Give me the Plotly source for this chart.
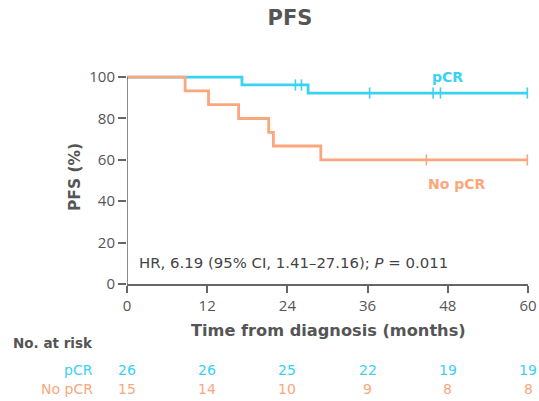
import plotly.graph_objects as go

# ---- data ----
pcr_times = [0, 17.2, 27.1, 60]
pcr_surv = [100, 96.2, 92.3, 92.3]
pcr_censor = [25.2, 26.1, 36.3, 45.8, 46.9, 59.9]

npcr_times = [0, 8.7, 12.2, 16.7, 21.2, 21.9, 29.0, 60]
npcr_surv = [100, 93.3, 86.7, 80.0, 73.3, 66.7, 60.0, 60.0]
npcr_censor = [44.8, 59.9]

x_ticks = [0, 12, 24, 36, 48, 60]
y_ticks = [0, 20, 40, 60, 80, 100]
risk_pcr = [26, 26, 25, 22, 19, 19]
risk_npcr = [15, 14, 10, 9, 8, 8]

BLUE = "#3ad2f2"
ORANGE = "#fba67d"
GRAY = "#555555"
AXCOL = "#666666"
TICKFONT = "Open Sans"
BOLDFONT = "DejaVu Sans"

W, H = 539, 401
L, R, T, B = 127, 11, 74, 117
pw, ph = W - L - R, H - T - B


def px_x(px):
    return (px - L) / pw


def px_y(py):
    return (H - B - py) / ph


def step_at(times, surv, t):
    val = surv[0]
    for ti, si in zip(times, surv):
        if ti <= t:
            val = si
    return val


fig = go.Figure()

for times, surv, cens, col in [
    (pcr_times, pcr_surv, pcr_censor, BLUE),
    (npcr_times, npcr_surv, npcr_censor, ORANGE),
]:
    fig.add_trace(go.Scatter(x=times, y=surv, mode="lines", line=dict(color=col, width=2.8, shape="hv"),
                             hoverinfo="skip", showlegend=False))
    fig.add_trace(go.Scatter(x=cens, y=[step_at(times, surv, t) for t in cens], mode="markers",
                             marker=dict(symbol="line-ns", size=8, line=dict(color=col, width=1.6)),
                             cliponaxis=False, hoverinfo="skip", showlegend=False))

ann = []
ann.append(dict(x=47.9, y=100, xref="x", yref="y", text="<b>pCR</b>", showarrow=False,
                font=dict(family=BOLDFONT, size=14, color=BLUE), yanchor="middle"))
ann.append(dict(x=49.4, y=48.1, xref="x", yref="y", text="<b>No pCR</b>", showarrow=False,
                font=dict(family=BOLDFONT, size=14, color=ORANGE), yanchor="middle"))
ann.append(dict(x=1.5, y=10.1, xref="x", yref="y", xanchor="left",
                text="HR, 6.19 (95% CI, 1.41\u201327.16); <i>P</i> = 0.011", showarrow=False,
                font=dict(family=BOLDFONT, size=14.9, color="#444444"), yanchor="middle"))
# axis titles
ann.append(dict(x=px_x(75), y=px_y(177), xref="paper", yref="paper", text="<b>PFS (%)</b>",
                textangle=-90, showarrow=False, xanchor="center", yanchor="middle",
                font=dict(family=BOLDFONT, size=15.5, color=GRAY)))
ann.append(dict(x=px_x(328), y=px_y(330), xref="paper", yref="paper",
                text="<b>Time from diagnosis (months)</b>", showarrow=False,
                xanchor="center", yanchor="middle",
                font=dict(family=BOLDFONT, size=16.2, color=GRAY)))
# risk table
ann.append(dict(x=px_x(95), y=px_y(343), xref="paper", yref="paper", text="<b>No. at risk</b>",
                showarrow=False, xanchor="right", yanchor="middle",
                font=dict(family=BOLDFONT, size=13.5, color=GRAY)))
for lbl, vals, col, py in [("pCR", risk_pcr, BLUE, 370), ("No pCR", risk_npcr, ORANGE, 389)]:
    ann.append(dict(x=px_x(95), y=px_y(py), xref="paper", yref="paper",
                    text=lbl, showarrow=False, xanchor="right", yanchor="middle",
                    font=dict(family=BOLDFONT, size=14, color=col)))
    for xv, v in zip(x_ticks, vals):
        ann.append(dict(x=xv, y=px_y(py), xref="x", yref="paper",
                        text=str(v), showarrow=False, xanchor="center", yanchor="middle",
                        font=dict(family=BOLDFONT, size=14, color=col)))

# y-axis line drawn as a shape from 0 to 100
fig.add_shape(type="line", x0=0, x1=0, y0=0, y1=100, xref="x", yref="y",
              line=dict(color=AXCOL, width=1.5))

fig.update_layout(
    width=W, height=H,
    margin=dict(l=L, r=R, t=T, b=B, autoexpand=False),
    paper_bgcolor="white", plot_bgcolor="white",
    annotations=ann,
    title=dict(text="<b>PFS</b>", x=290 / W, xanchor="center",
               y=1 - 17.5 / H, yanchor="middle",
               font=dict(family=BOLDFONT, size=21, color=GRAY)),
    xaxis=dict(range=[0, 60], tickvals=x_ticks, ticks="outside", ticklen=7, tickwidth=1.5,
               tickcolor=AXCOL, showline=True, linecolor=AXCOL, linewidth=1.5,
               showgrid=False, zeroline=False, automargin=False,
               tickfont=dict(family=TICKFONT, size=15, color=GRAY)),
    yaxis=dict(range=[0, 101.5], tickvals=y_ticks, ticks="outside", ticklen=8, tickwidth=1.5,
               tickcolor=AXCOL, showline=False, showgrid=False, zeroline=False, automargin=False,
               tickfont=dict(family=TICKFONT, size=15, color=GRAY)),
)

fig.write_html("out.html", config={"responsive": False, "displayModeBar": False},
               post_script="document.body.style.margin='0';document.body.style.overflow='hidden';")
